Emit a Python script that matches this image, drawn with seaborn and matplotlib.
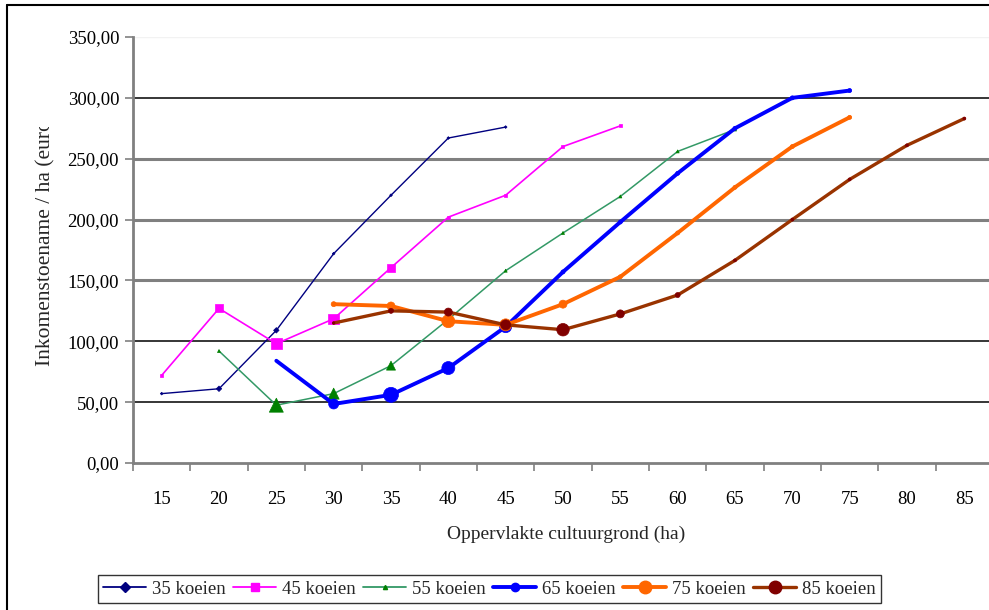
import matplotlib
matplotlib.use("Agg")
import matplotlib.pyplot as plt
from matplotlib.lines import Line2D
from matplotlib.ticker import FuncFormatter, FixedLocator
from matplotlib.transforms import Bbox
from matplotlib.font_manager import FontProperties
import seaborn as sns
import pandas as pd
import numpy as np

# ---------------- data ----------------
categories = [15, 20, 25, 30, 35, 40, 45, 50, 55, 60, 65, 70, 75, 80, 85]

x_35 = [15, 20, 25, 30, 35, 40, 45]
y_35 = [57, 61, 109, 172, 220, 267, 276]

x_45 = [15, 20, 25, 30, 35, 40, 45, 50, 55]
y_45 = [72, 127, 98, 118.5, 160.5, 202, 220, 260, 277]

x_55 = [20, 25, 30, 35, 40, 45, 50, 55, 60, 65]
y_55 = [92, 47.5, 57, 80, 118, 158, 189, 219, 256, 274]

x_65 = [25, 30, 35, 40, 45, 50, 55, 60, 65, 70, 75]
y_65 = [84, 48.5, 56, 78, 112, 157, 198, 238, 275, 300, 306]

x_75 = [30, 35, 40, 45, 50, 55, 60, 65, 70, 75]
y_75 = [130.5, 129, 116.5, 113.5, 130.5, 153, 189, 226.5, 260, 284]

x_85 = [30, 35, 40, 45, 50, 55, 60, 65, 70, 75, 80, 85]
y_85 = [115, 125, 124, 113.5, 109.5, 122.5, 138, 166.5, 200, 233, 261, 283]

series_names = ["35 koeien", "45 koeien", "55 koeien", "65 koeien", "75 koeien", "85 koeien"]
series_x = [x_35, x_45, x_55, x_65, x_75, x_85]
series_y = [y_35, y_45, y_55, y_65, y_75, y_85]

y_ticks = [0, 50, 100, 150, 200, 250, 300, 350]

# ---------------- styles ----------------
line_colors = ["#000080", "#FF00FF", "#339966", "#0000FF", "#FF6600", "#993300"]
marker_colors = ["#000080", "#FF00FF", "#008000", "#0000FF", "#FF6600", "#800000"]
line_widths = [1.0, 1.2, 1.1, 2.8, 2.8, 2.4]
markers = ["D", "s", "^", "o", "o", "o"]
# marker widths in pixels for each point (style, not data)
marker_px = [
    [2.5, 5, 5, 2.5, 2.5, 2.5, 2.5],
    [3, 8, 11, 10.5, 8, 3, 3, 3, 3],
    [3, 14, 11, 9, 3, 3, 3, 3, 3, 3],
    [0, 10, 15, 13, 12, 4, 4, 4, 4, 4, 4],
    [5, 8, 13, 12, 8, 4, 4, 4, 4, 4],
    [2.5, 5, 8, 10, 12.5, 8, 5, 3, 3, 3, 3, 3],
]
legend_ms = [5, 6, 3, 6, 9, 9]

W, H = 989, 610
DPI = 100
SERIF = ["Liberation Serif", "DejaVu Serif"]

sns.set_theme(style="white")
plt.rcParams["font.family"] = SERIF

fig = plt.figure(figsize=(W / DPI, H / DPI), dpi=DPI)
ax = fig.add_axes([133 / W, (H - 463) / H, 860 / W, (463 - 37) / H])

pos_of = {c: i for i, c in enumerate(categories)}

frames = []
for name, xs, ys in zip(series_names, series_x, series_y):
    frames.append(pd.DataFrame({"pos": [pos_of[v] for v in xs], "value": ys, "series": name}))
df = pd.concat(frames, ignore_index=True)

for i, name in enumerate(series_names):
    sub = df[df["series"] == name]
    sns.lineplot(data=sub, x="pos", y="value", ax=ax, color=line_colors[i],
                 lw=line_widths[i], estimator=None, sort=False, legend=False,
                 zorder=3 + 2 * i)
    sizes = np.array(marker_px[i]) * 0.72
    s = sizes ** 2
    if markers[i] == "D":
        s = s * 0.6
    ax.scatter(sub["pos"], sub["value"], s=s, marker=markers[i],
               color=marker_colors[i], edgecolors=marker_colors[i], linewidths=0.5,
               zorder=4 + 2 * i)

# axes styling
ax.set_xlim(-0.5, len(categories) - 0.5)
ax.set_ylim(0, 350)
ax.set_xticks(range(len(categories)))
ax.set_xticklabels([str(c) for c in categories])
ax.xaxis.set_minor_locator(FixedLocator(np.arange(-0.5, len(categories), 1.0)))
ax.tick_params(axis="x", which="major", length=0, pad=20, labelsize=13.5, colors="black")
ax.tick_params(axis="x", which="minor", length=6, width=1.2, color="#808080", direction="out", bottom=True)
ax.set_yticks(y_ticks)
ax.yaxis.set_major_formatter(FuncFormatter(lambda v, p: f"{v:.2f}".replace(".", ",")))
ax.tick_params(axis="y", which="major", length=6, width=1.2, color="#808080", direction="out",
               left=True, labelsize=13.5, colors="black", pad=4)
for lab in ax.get_yticklabels() + ax.get_xticklabels():
    lab.set_color("black")

for side in ["top", "right"]:
    ax.spines[side].set_visible(False)
for side in ["left", "bottom"]:
    ax.spines[side].set_color("#808080")
    ax.spines[side].set_linewidth(2.0)

# gridlines
grid_style = {50: ("black", 1.1), 100: ("black", 1.1), 150: ("#808080", 2.2),
              200: ("#808080", 2.2), 250: ("#808080", 2.2), 300: ("black", 1.1),
              350: ("#f2f2f2", 1.0)}
for v, (c, lw) in grid_style.items():
    ax.axhline(v, color=c, lw=lw, zorder=1)

ax.set_xlabel("")
ax.set_ylabel("")
fig.text(566 / W, 1 - 534 / H, "Oppervlakte cultuurgrond (ha)", ha="center", va="center",
         fontsize=14, family=SERIF)

ylab = fig.text(46 / W, (H - 366) / H, "Inkomenstoename / ha (euro)", rotation=90,
                ha="center", va="bottom", fontsize=15.5, family=SERIF)
ylab.set_clip_box(Bbox([[0, 0], [W, H - 127]]))
ylab.set_clip_on(True)

# outer frame (left and top visible)
fig.add_artist(Line2D([7 / W, 7 / W], [0, 1 - 5 / H], color="black", lw=1.5, transform=fig.transFigure))
fig.add_artist(Line2D([7 / W, 1], [1 - 5 / H, 1 - 5 / H], color="black", lw=1.5, transform=fig.transFigure))

# legend
handles = [Line2D([0], [0], color=line_colors[i], lw=line_widths[i] if i >= 3 else 1.3,
                  marker=markers[i], markersize=legend_ms[i],
                  markerfacecolor=marker_colors[i], markeredgecolor=marker_colors[i])
           for i in range(len(series_names))]
leg = fig.legend(handles, series_names, loc="center", bbox_to_anchor=(489.5 / W, 1 - 589 / H),
                 ncol=6, prop=FontProperties(family=SERIF, size=13.5), frameon=True,
                 fancybox=False, edgecolor="black",
                 handlelength=2.3, handletextpad=0.3, columnspacing=0.4, borderpad=0.3,
                 borderaxespad=0)
leg.get_frame().set_linewidth(1.0)

fig.savefig("out.png", dpi=DPI)
